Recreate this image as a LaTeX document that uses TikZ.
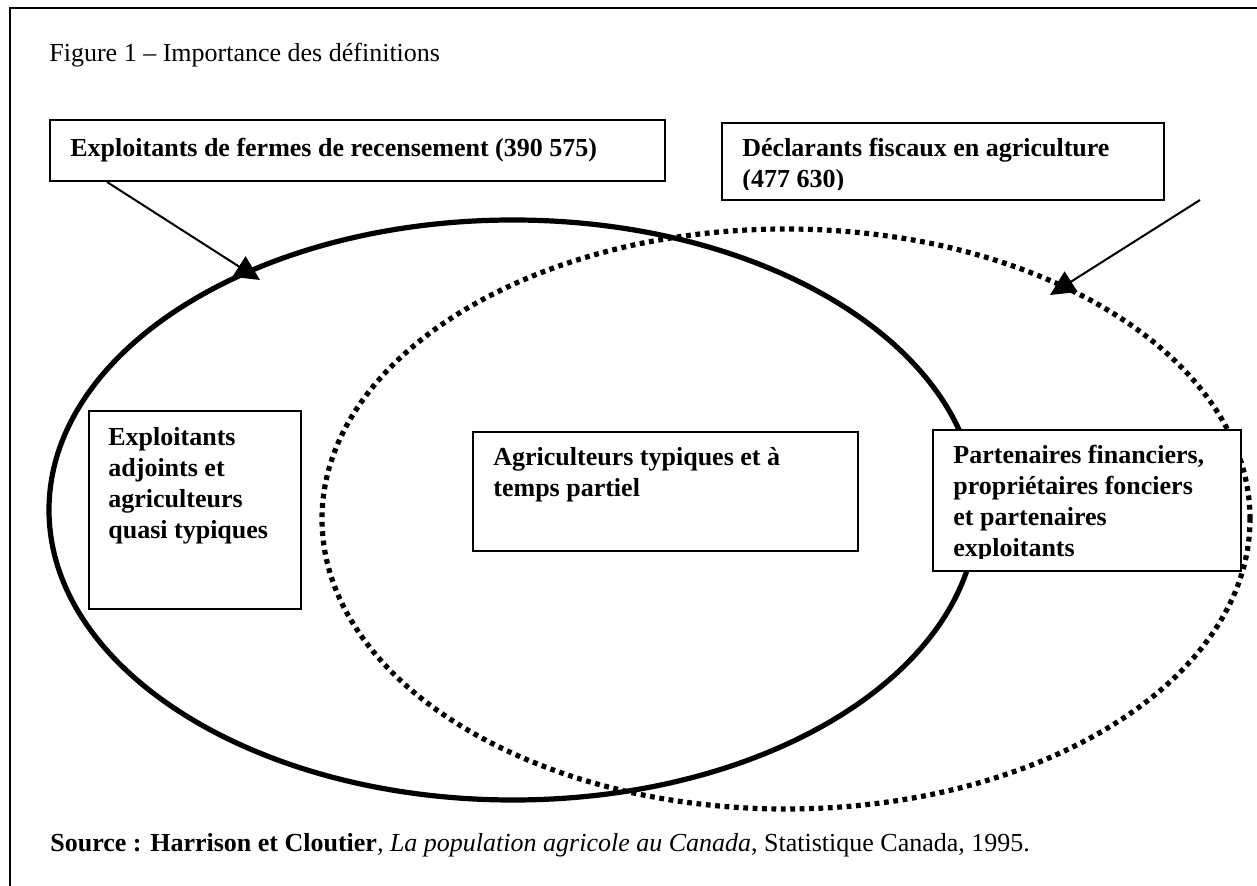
\documentclass[tikz,border=0pt]{standalone}
\usepackage{fontspec}
\setmainfont{Liberation Serif}
\usetikzlibrary{arrows.meta,shapes.geometric}
\begin{document}
\begin{tikzpicture}[x=0.5pt,y=-0.5pt,
  txt/.style={inner sep=0pt, anchor=base west, font=\fontsize{13pt}{15.5pt}\selectfont},
  btxt/.style={inner sep=0pt, anchor=base west, font=\fontsize{13pt}{15.5pt}\selectfont\bfseries},
  boxnode/.style={draw, line width=0.9pt, fill=white, anchor=north west, inner sep=0pt},
  solidell/.style={ellipse, draw, line width=2.6pt, inner sep=0pt, minimum width=464pt, minimum height=290pt},
  dotell/.style={ellipse, draw, line width=2.6pt, dash pattern=on 2.4pt off 2.3pt, inner sep=0pt, minimum width=464pt, minimum height=290pt},
  arr/.style={line width=1pt, -{Triangle[length=12.5pt,width=12pt]}},
  frameline/.style={line width=0.8pt}
]
\useasboundingbox (0,0) rectangle (1257,886);
% frame (only top and left edges fall inside the picture)
\draw[frameline] (1257,8) -- (10,8) -- (10,886);

% title
\node[txt] (title) at (49,62) {Figure 1 – Importance des définitions};

% ellipses
\node[solidell] (E1) at (513,510) {};
\node[dotell] (E2) at (786,519) {};

% boxes
\node[boxnode, minimum width=307.5pt, minimum height=30.5pt] (B1) at (49,119) {};
\node[boxnode, minimum width=221pt, minimum height=38.5pt] (B2) at (721,122) {};
\node[boxnode, minimum width=106pt, minimum height=99pt] (B3) at (88,410) {};
\node[boxnode, minimum width=192.5pt, minimum height=59.5pt] (B4) at (472,431) {};
\node[boxnode, minimum width=154pt, minimum height=70.5pt] (B5) at (932,429) {};

% box texts
\node[btxt] (T1) at (70,157) {Exploitants de fermes de recensement (390 575)};
\begin{scope}
\clip (721,122) rectangle (1163,190);
\node[btxt] (T2) at (742,157) {\vtop{\hbox{Déclarants fiscaux en agriculture}\hbox{(477 630)}}};
\end{scope}
\node[btxt] (T3) at (108,446) {\vtop{\hbox{Exploitants}\hbox{adjoints et}\hbox{agriculteurs}\hbox{quasi typiques}}};
\node[btxt] (T4) at (493,466) {\vtop{\hbox{Agriculteurs typiques et à}\hbox{temps partiel}}};
\begin{scope}
\clip (932,429) rectangle (1240,559);
\node[btxt] (T5) at (953,464) {\vtop{\hbox{Partenaires financiers,}\hbox{propriétaires fonciers}\hbox{et partenaires}\hbox{exploitants}}};
\end{scope}

% arrows
\coordinate (A1s) at (107,182);
\coordinate (A1e) at (260,280);
\coordinate (A2s) at (1200,200);
\coordinate (A2e) at (1050,295);
\draw[arr] (A1s) -- (A1e);
\draw[arr] (A2s) -- (A2e);

% source
\node[txt] (src) at (50,851) {\textbf{Source : Harrison et Cloutier}\textit{, La population agricole au Canada}, Statistique Canada, 1995.};
\end{tikzpicture}
\end{document}
